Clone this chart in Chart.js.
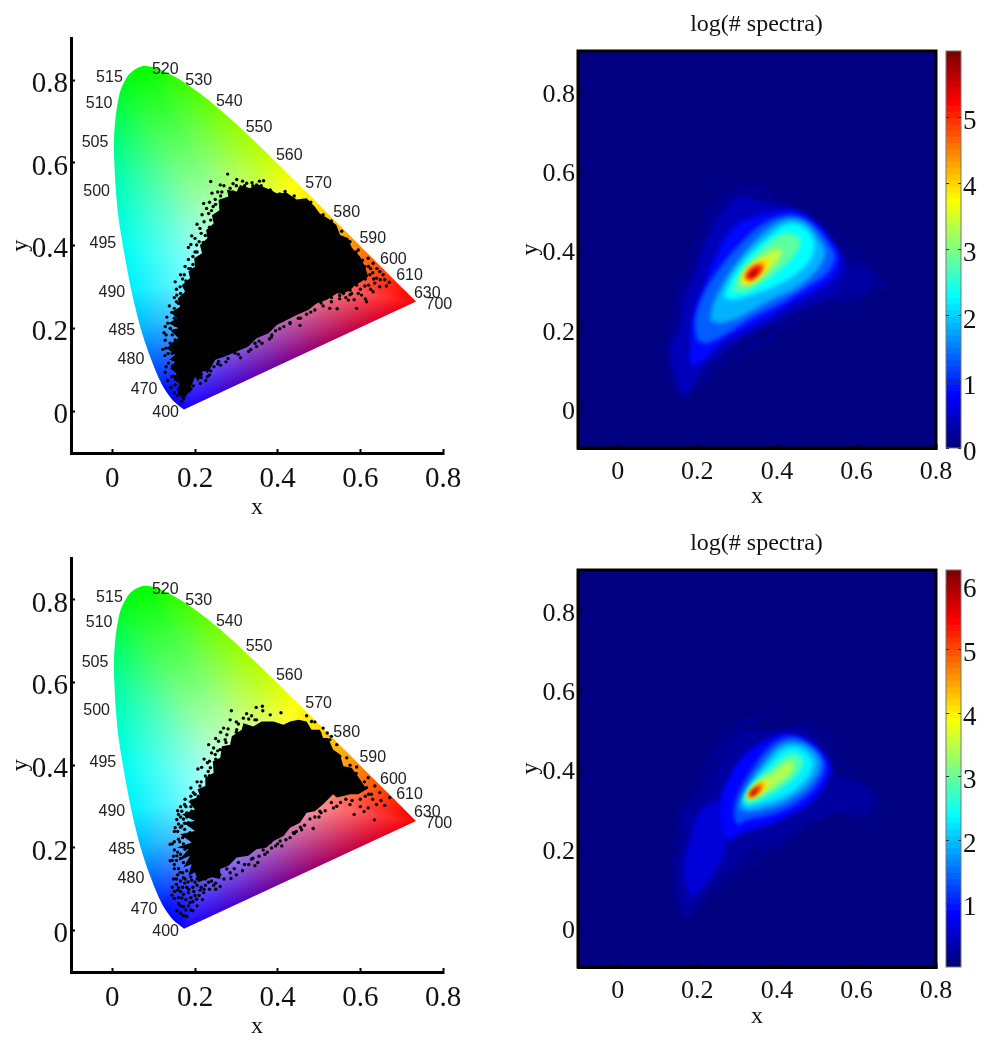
<!DOCTYPE html>
<html>
<head>
<meta charset="utf-8">
<title>log(# spectra)</title>
<script src="https://cdn.jsdelivr.net/npm/chart.js@4"></script>
<style>
  html, body { margin: 0; padding: 0; background: #fff; }
  #page { position: relative; width: 1003px; height: 1050px; overflow: hidden; }
  canvas { position: absolute; }
</style>
</head>
<body>
<div id="page">
  <canvas id="gamutTop" width="480" height="522" style="left:0;top:0"></canvas>
  <canvas id="gamutBottom" width="480" height="521" style="left:0;top:520px"></canvas>
  <canvas id="heatTop" width="493" height="519" style="left:510px;top:0"></canvas>
  <canvas id="heatBottom" width="493" height="520" style="left:510px;top:519px"></canvas>
  <canvas id="barTop" width="63" height="519" style="left:940px;top:0"></canvas>
  <canvas id="barBottom" width="63" height="520" style="left:940px;top:519px"></canvas>
</div>
<script>
const axisTicks = [0, 0.2, 0.4, 0.6, 0.8];
const barTicksTop = [0, 1, 2, 3, 4, 5];
const barTicksBottom = [1, 2, 3, 4, 5, 6];
const barMaxTop = 5.99;
const barMaxBottom = 6.24;

// spectral locus, x and y, with the colour seen along the edge
const locusX = [.1733, .1566, .1440, .1241, .1096, .0913, .0687, .0454, .0235, .0138, .0082, .0049, .0039, .0075, .0139, .0215, .0389, .0555, .0743, .0940, .1142, .1547, .1929, .2296, .2658, .3016, .3373, .3731, .4087, .4441, .4788, .5125, .5448, .5752, .6029, .6270, .6658, .6915, .7079, .7260, .7347];
const locusY = [.0048, .0177, .0297, .0578, .0868, .1327, .2007, .2950, .4127, .4760, .5384, .5980, .6548, .7070, .7502, .7800, .8120, .8262, .8338, .8323, .8262, .8059, .7816, .7543, .7243, .6923, .6589, .6245, .5896, .5547, .5202, .4866, .4544, .4242, .3965, .3725, .3340, .3083, .2920, .2740, .2653];
const locusR = [20, 0, 0, 0, 0, 0, 0, 0, 0, 0, 0, 0, 0, 0, 0, 0, 0, 0, 0, 10, 25, 50, 75, 100, 125, 150, 170, 195, 225, 255, 255, 255, 255, 255, 255, 255, 255, 255, 255, 255, 255];
const locusG = [0, 0, 0, 20, 60, 110, 180, 240, 255, 255, 255, 255, 255, 255, 255, 255, 255, 255, 255, 255, 255, 255, 255, 255, 255, 255, 255, 255, 255, 255, 235, 210, 185, 160, 130, 100, 60, 30, 10, 0, 0];
const locusB = [255, 255, 255, 255, 255, 255, 255, 255, 240, 215, 190, 160, 125, 90, 60, 35, 15, 0, 0, 0, 0, 0, 0, 0, 0, 0, 0, 0, 0, 0, 0, 0, 0, 0, 0, 0, 0, 0, 0, 0, 0];
const whiteX = 0.333;
const whiteY = 0.333;

const waveLabels = ['520', '530', '540', '550', '560', '570', '580', '590', '600', '610', '630', '700', '515', '510', '505', '500', '495', '490', '485', '480', '470', '400'];
const waveX = [.128, .209, .283, .355, .428, .499, .567, .630, .680, .719, .762, .790, -.007, -.032, -.042, -.038, -.023, -.001, .023, .045, .077, .129];
const waveY = [.826, .798, .748, .686, .618, .549, .480, .418, .366, .328, .285, .259, .805, .744, .648, .532, .406, .287, .195, .126, .052, -.002];

// dense part of the measured spectra
const coreTop = [[.168,.032],[.156,.052],[.163,.068],[.148,.076],[.156,.092],[.140,.104],[.152,.121],[.138,.125],[.152,.137],[.132,.153],[.148,.169],[.160,.177],[.140,.197],[.160,.201],[.136,.213],[.156,.225],[.142,.239],[.164,.253],[.158,.273],[.176,.289],[.168,.305],[.188,.322],[.184,.338],[.200,.350],[.198,.370],[.217,.382],[.212,.402],[.230,.418],[.227,.438],[.245,.454],[.241,.474],[.259,.486],[.257,.511],[.281,.519],[.277,.535],[.301,.531],[.309,.547],[.333,.539],[.349,.549],[.373,.539],[.398,.527],[.422,.528],[.446,.512],[.470,.515],[.490,.494],[.502,.478],[.522,.466],[.542,.450],[.551,.426],[.571,.418],[.579,.396],[.599,.374],[.611,.350],[.619,.326],[.603,.314],[.587,.305],[.575,.293],[.559,.285],[.543,.285],[.518,.269],[.494,.261],[.474,.245],[.446,.233],[.422,.221],[.398,.209],[.378,.189],[.349,.177],[.329,.157],[.301,.145],[.273,.133],[.249,.125],[.230,.092],[.221,.104],[.208,.072],[.200,.084],[.184,.044]];
const coreBottom = [[.208,.117],[.200,.141],[.184,.133],[.192,.161],[.172,.153],[.188,.181],[.160,.169],[.184,.197],[.156,.201],[.192,.213],[.164,.233],[.200,.241],[.172,.261],[.200,.265],[.168,.281],[.200,.293],[.184,.313],[.212,.326],[.206,.342],[.225,.350],[.225,.370],[.245,.382],[.243,.410],[.261,.418],[.265,.446],[.285,.450],[.289,.470],[.313,.486],[.317,.502],[.341,.494],[.361,.506],[.390,.506],[.414,.498],[.430,.506],[.450,.510],[.470,.506],[.482,.486],[.502,.486],[.510,.466],[.522,.466],[.534,.438],[.551,.426],[.559,.398],[.579,.394],[.599,.366],[.615,.342],[.595,.330],[.575,.330],[.559,.326],[.543,.322],[.534,.330],[.510,.306],[.490,.289],[.470,.285],[.454,.261],[.430,.249],[.414,.229],[.390,.217],[.373,.201],[.349,.197],[.329,.181],[.301,.177],[.281,.157],[.261,.149],[.261,.125],[.241,.129]];

// stray spectra around the dense part
const dotsTop = [[.279,.573],[.238,.555],[.301,.560],[.366,.557],[.261,.547],[.325,.551],[.349,.547],[.285,.539],[.241,.527],[.221,.502],[.249,.512],[.309,.539],[.382,.535],[.418,.531],[.233,.478],[.217,.475],[.212,.442],[.192,.424],[.184,.396],[.204,.402],[.184,.367],[.195,.374],[.174,.330],[.152,.313],[.164,.301],[.156,.281],[.144,.239],[.150,.249],[.160,.261],[.134,.213],[.140,.201],[.152,.209],[.130,.153],[.140,.165],[.152,.173],[.136,.117],[.148,.125],[.160,.133],[.144,.084],[.160,.092],[.152,.064],[.168,.072],[.164,.045],[.172,.032],[.180,.060],[.192,.080],[.213,.068],[.230,.084],[.221,.100],[.257,.121],[.297,.141],[.349,.157],[.386,.185],[.454,.208],[.414,.221],[.486,.261],[.526,.249],[.544,.248],[.591,.249],[.571,.269],[.579,.285],[.615,.265],[.603,.281],[.631,.289],[.647,.301],[.663,.303],[.659,.318],[.639,.322],[.647,.338],[.623,.330],[.611,.350],[.631,.358],[.619,.370],[.599,.366],[.595,.390],[.583,.326],[.591,.305],[.611,.303],[.575,.293],[.559,.285],[.567,.402],
  [.255,.530],[.270,.545],[.292,.550],[.315,.556],[.338,.552],[.356,.556],[.292,.530],[.262,.520],[.235,.505],[.244,.495],[.228,.490],[.238,.462],[.222,.458],[.205,.452],[.215,.430],[.200,.418],[.220,.408],[.190,.403],[.205,.385],[.176,.350],[.190,.345],[.165,.330],[.178,.315],[.155,.295],[.150,.275],[.138,.255],[.132,.228],[.128,.205],[.125,.190],[.128,.172],[.122,.150],[.127,.135],[.130,.108],[.128,.095],[.134,.075],[.142,.058],[.150,.045],[.158,.038],[.168,.024],[.176,.040],[.186,.050],[.196,.062],[.205,.090],[.215,.082],[.226,.075],[.238,.098],[.246,.108],[.262,.112],[.275,.120],[.310,.130],[.330,.145],[.345,.165],[.362,.165],[.380,.175],[.395,.195],[.415,.205],[.430,.215],[.450,.225],[.470,.235],[.490,.245],[.510,.255],[.530,.265],[.550,.272],[.565,.275],[.585,.270],[.600,.295],[.620,.305],[.635,.310],[.655,.330],[.640,.345],[.625,.345],[.630,.335],[.605,.335],[.595,.285],[.612,.272],[.625,.295],[.648,.318],[.670,.312],
  [.150,.085],[.165,.080],[.175,.055],[.185,.070],[.195,.090],[.210,.100],[.145,.110],[.145,.140],[.135,.140],[.142,.150],[.145,.185],[.130,.185],[.150,.225],[.155,.265],[.165,.285],[.170,.320],[.185,.345],[.195,.355],[.200,.385],[.210,.410],[.225,.425],[.235,.445],[.240,.485],[.250,.500],[.265,.530],[.285,.525],[.300,.545],[.320,.545],[.340,.545],[.360,.545],[.385,.530],[.405,.525],[.440,.520],[.480,.505],[.510,.475],[.530,.460],[.555,.435],[.575,.410],[.590,.385],[.605,.365],[.620,.350],[.632,.320],[.612,.320],[.595,.315],[.575,.282],[.550,.280],[.530,.275],[.505,.262],[.480,.240],[.455,.225],[.430,.212],[.405,.200],[.385,.180],[.355,.170],[.335,.150],[.305,.138],[.280,.128],[.255,.115],[.235,.088],[.215,.090],[.190,.055]];
const dotsBottom = [[.288,.532],[.348,.540],[.363,.543],[.364,.532],[.382,.522],[.408,.527],[.317,.514],[.337,.520],[.349,.510],[.285,.510],[.301,.486],[.269,.490],[.277,.474],[.273,.462],[.257,.458],[.245,.442],[.261,.438],[.249,.426],[.233,.450],[.230,.406],[.237,.394],[.207,.391],[.225,.374],[.212,.350],[.196,.334],[.208,.325],[.176,.318],[.192,.314],[.168,.289],[.160,.281],[.180,.285],[.192,.289],[.156,.269],[.152,.249],[.168,.253],[.184,.261],[.140,.209],[.160,.221],[.176,.229],[.188,.237],[.140,.169],[.156,.181],[.176,.197],[.192,.205],[.148,.125],[.164,.141],[.184,.165],[.144,.086],[.160,.104],[.176,.125],[.192,.141],[.168,.079],[.184,.092],[.200,.117],[.156,.048],[.172,.036],[.184,.060],[.204,.076],[.221,.092],[.233,.117],[.261,.107],[.287,.126],[.277,.149],[.305,.165],[.337,.173],[.345,.157],[.369,.185],[.382,.213],[.406,.217],[.458,.244],[.486,.247],[.438,.237],[.502,.289],[.535,.297],[.543,.301],[.575,.305],[.585,.281],[.609,.288],[.634,.268],[.619,.297],[.639,.305],[.659,.303],[.671,.322],[.647,.334],[.627,.330],[.615,.346],[.599,.350],[.583,.366],[.591,.396],[.567,.382],[.619,.370],[.502,.478],[.526,.462],[.543,.450],[.482,.506],[.550,.422],[.567,.418],
  [.158,.290],[.165,.300],[.172,.270],[.160,.258],[.175,.245],[.150,.240],[.163,.215],[.150,.215],[.172,.210],[.148,.180],[.165,.175],[.150,.160],[.172,.165],[.158,.135],[.175,.115],[.155,.112],[.165,.095],[.180,.105],[.150,.095],[.195,.105],[.178,.075],[.165,.060],[.195,.070],[.215,.105],[.210,.085],[.225,.110],[.190,.050],[.180,.035],[.245,.110],[.250,.100],[.270,.125],[.295,.150],[.315,.145],[.330,.160],[.355,.180],[.375,.190],[.395,.205],[.420,.220],[.440,.235],[.455,.250],[.478,.270],[.500,.275],[.515,.290],[.530,.310],[.552,.310],[.565,.318],[.580,.315],[.600,.318],[.612,.325],[.630,.318],[.650,.315],[.600,.300],[.620,.330],[.635,.350],[.610,.360],[.590,.380],[.575,.400],[.325,.525],[.300,.505],[.280,.488],[.262,.480],[.250,.465],[.240,.430],[.222,.415],[.216,.395],[.232,.385],[.205,.360],[.190,.345],[.200,.305],[.178,.300],[.330,.512],[.345,.510],[.470,.520],[.490,.505],[.510,.490],[.530,.470],[.520,.478],
  [.150,.150],[.160,.150],[.170,.140],[.180,.145],[.190,.130],[.155,.125],[.165,.120],[.172,.128],[.183,.118],[.192,.122],[.205,.110],[.145,.105],[.158,.098],[.170,.105],[.185,.100],[.197,.095],[.212,.098],[.222,.100],[.235,.100],[.150,.078],[.160,.080],[.172,.088],[.190,.080],[.200,.085],[.218,.075],[.160,.065],[.172,.058],[.188,.068],[.205,.060],[.165,.042],[.178,.050],[.195,.048],[.240,.120],[.225,.125],[.215,.130],[.205,.125],[.250,.115],[.260,.135],[.285,.140],[.300,.135],[.320,.160],[.340,.175],[.352,.165],[.365,.195],[.385,.200],[.400,.210],[.410,.205],[.430,.225],[.445,.240],[.465,.255],[.490,.275],[.505,.285],
  [.145,.210],[.150,.195],[.158,.190],[.145,.170],[.155,.170],[.165,.185],[.170,.225],[.158,.240],[.165,.250],[.175,.260],[.165,.275],[.180,.275],[.175,.305],[.190,.300],[.190,.325],[.200,.330],[.215,.340],[.215,.360],[.235,.375],[.235,.410],[.250,.415],[.255,.435],[.275,.455],[.300,.480],[.305,.500]];

// log(# spectra) contours, outermost first
const levelsTop = [.2, .35, .8, 1.3, 1.8, 2.25, 2.8, 3.4, 3.9, 4.5, 5.2, 5.8];
const contoursTop = [
  [[.157,.028],[.136,.104],[.131,.154],[.152,.205],[.165,.280],[.194,.347],[.224,.431],[.265,.507],[.307,.540],[.374,.524],[.450,.503],[.508,.465],[.550,.414],[.575,.372],[.634,.347],[.634,.297],[.575,.280],[.525,.280],[.475,.255],[.408,.221],[.341,.188],[.274,.146],[.215,.095],[.182,.036]],
  [[.160,.040],[.140,.104],[.135,.154],[.156,.205],[.170,.280],[.198,.347],[.228,.431],[.269,.500],[.307,.530],[.374,.516],[.450,.500],[.506,.462],[.548,.412],[.572,.372],[.566,.330],[.545,.290],[.475,.260],[.408,.226],[.341,.192],[.274,.150],[.215,.100],[.182,.046]],
  [[.182,.154],[.190,.238],[.215,.305],[.249,.389],[.291,.456],[.358,.486],[.442,.498],[.500,.465],[.542,.414],[.559,.381],[.550,.339],[.500,.297],[.450,.272],[.383,.230],[.316,.196],[.257,.162],[.215,.120],[.182,.104]],
  [[.199,.171],[.194,.221],[.215,.288],[.257,.355],[.307,.414],[.366,.465],[.433,.486],[.483,.469],[.525,.423],[.546,.381],[.525,.339],[.475,.305],[.408,.263],[.341,.230],[.274,.188],[.224,.162]],
  [[.232,.221],[.240,.263],[.274,.330],[.324,.398],[.383,.456],[.433,.478],[.475,.465],[.508,.423],[.521,.389],[.500,.347],[.450,.305],[.383,.272],[.307,.230],[.257,.213]],
  [[.265,.280],[.282,.322],[.324,.381],[.383,.436],[.429,.465],[.467,.456],[.492,.423],[.488,.381],[.450,.339],[.391,.305],[.332,.284],[.291,.272]],
  [[.286,.293],[.307,.343],[.366,.406],[.416,.440],[.450,.435],[.458,.410],[.433,.372],[.383,.330],[.324,.293]],
  [[.307,.322],[.324,.351],[.366,.385],[.404,.402],[.412,.389],[.383,.351],[.341,.318],[.316,.309]],
  [[.311,.326],[.324,.351],[.349,.368],[.379,.377],[.379,.360],[.349,.326],[.324,.309]],
  [[.317,.330],[.332,.354],[.358,.366],[.368,.360],[.358,.339],[.332,.319]],
  [[.322,.332],[.337,.351],[.353,.360],[.362,.354],[.349,.335],[.332,.324]],
  [[.328,.335],[.341,.346],[.351,.349],[.349,.341],[.337,.329]]
];
const levelsBottom = [.2, .55, .8, 1.3, 1.8, 2.25, 2.8, 3.4, 4, 4.6, 5.3, 6];
const contoursBottom = [
  [[.161,.034],[.144,.118],[.165,.219],[.165,.282],[.207,.328],[.257,.412],[.299,.488],[.349,.496],[.416,.501],[.467,.505],[.525,.446],[.550,.387],[.634,.345],[.634,.286],[.559,.286],[.475,.261],[.408,.219],[.341,.194],[.282,.144],[.215,.076],[.182,.034]],
  [[.182,.068],[.165,.152],[.182,.219],[.198,.278],[.232,.312],[.265,.312],[.274,.236],[.265,.177],[.215,.102]],
  [[.257,.295],[.265,.345],[.307,.421],[.358,.463],[.425,.488],[.492,.463],[.529,.421],[.534,.387],[.492,.320],[.425,.278],[.366,.253],[.307,.236],[.282,.219],[.265,.236]],
  [[.291,.278],[.299,.328],[.341,.404],[.391,.463],[.441,.480],[.492,.454],[.521,.412],[.504,.362],[.450,.312],[.383,.282],[.324,.270],[.303,.257]],
  [[.303,.299],[.316,.341],[.358,.404],[.408,.459],[.450,.467],[.492,.446],[.509,.412],[.488,.366],[.437,.324],[.374,.299],[.324,.291]],
  [[.312,.312],[.328,.349],[.370,.404],[.416,.450],[.454,.454],[.483,.433],[.492,.408],[.467,.366],[.416,.328],[.366,.312],[.328,.303]],
  [[.317,.320],[.337,.358],[.383,.400],[.421,.433],[.450,.438],[.467,.417],[.450,.383],[.408,.349],[.362,.324],[.328,.312]],
  [[.322,.328],[.345,.362],[.391,.391],[.425,.417],[.441,.417],[.437,.391],[.400,.358],[.358,.333],[.332,.322]],
  [[.324,.330],[.345,.354],[.370,.370],[.379,.364],[.358,.337],[.332,.324]],
  [[.326,.333],[.341,.349],[.362,.364],[.368,.360],[.353,.341],[.334,.327]],
  [[.329,.334],[.345,.351],[.359,.358],[.358,.349],[.345,.335],[.334,.328]],
  [[.333,.337],[.345,.347],[.351,.349],[.345,.337],[.337,.331]]
];

const serif = '"Liberation Serif", "Times New Roman", serif';

function jet(t) {
  const ramp = (a) => Math.max(0, Math.min(1, 1.5 - Math.abs(4 * t - a)));
  const r = Math.round(255 * ramp(3));
  const g = Math.round(255 * ramp(2));
  const b = Math.round(255 * ramp(1));
  return `rgb(${r},${g},${b})`;
}

function toPoints(pairs) {
  return pairs.map(p => ({ x: p[0], y: p[1] }));
}

function tickLabel(v) {
  return v === 0 ? '0' : v.toFixed(1);
}

// horseshoe colours: a fan of triangles from the white point to the locus
function gamutPattern(chart) {
  if (chart.$gamut) return chart.$gamut;
  const area = chart.chartArea;
  if (!area) return 'transparent';
  const off = document.createElement('canvas');
  off.width = chart.width;
  off.height = chart.height;
  const octx = off.getContext('2d');
  const img = octx.createImageData(off.width, off.height);
  const n = locusX.length;
  for (let py = Math.floor(area.top); py < area.bottom; py++) {
    for (let px = Math.floor(area.left); px < area.right; px++) {
      const dx = chart.scales.x.getValueForPixel(px) - whiteX;
      const dy = chart.scales.y.getValueForPixel(py) - whiteY;
      for (let a = 0; a < n; a++) {
        const c = (a + 1) % n;
        const ax = locusX[a] - whiteX, ay = locusY[a] - whiteY;
        const cx = locusX[c] - whiteX, cy = locusY[c] - whiteY;
        const det = ax * cy - cx * ay;
        const u = (dx * cy - cx * dy) / det;
        const v = (ax * dy - dx * ay) / det;
        if (u < 0 || v < 0) continue;
        const w = Math.max(0, 1 - u - v);
        const i = (py * off.width + px) * 4;
        img.data[i] = w * 255 + u * locusR[a] + v * locusR[c];
        img.data[i + 1] = w * 255 + u * locusG[a] + v * locusG[c];
        img.data[i + 2] = w * 255 + u * locusB[a] + v * locusB[c];
        img.data[i + 3] = 255;
        break;
      }
    }
  }
  octx.putImageData(img, 0, 0);
  chart.$gamut = chart.ctx.createPattern(off, 'no-repeat');
  return chart.$gamut;
}

const waveTextPlugin = {
  id: 'waveText',
  afterDatasetsDraw(chart) {
    const ctx = chart.ctx;
    ctx.save();
    ctx.font = '16px "Liberation Sans", Arial, sans-serif';
    ctx.fillStyle = '#222';
    ctx.textAlign = 'center';
    ctx.textBaseline = 'middle';
    waveLabels.forEach((label, i) => {
      ctx.fillText(label, chart.scales.x.getPixelForValue(waveX[i]), chart.scales.y.getPixelForValue(waveY[i]));
    });
    ctx.restore();
  }
};

const heatFramePlugin = {
  id: 'heatFrame',
  beforeDraw(chart) {
    const a = chart.chartArea;
    chart.ctx.fillStyle = jet(0);
    chart.ctx.fillRect(a.left, a.top, a.right - a.left, a.bottom - a.top);
  },
  beforeDatasetsDraw(chart) {
    chart.ctx.filter = 'blur(2px)';
  },
  afterDatasetsDraw(chart) {
    const a = chart.chartArea;
    const ctx = chart.ctx;
    ctx.filter = 'none';
    ctx.save();
    ctx.strokeStyle = '#000';
    ctx.lineWidth = 3;
    ctx.strokeRect(a.left, a.top, a.right - a.left, a.bottom - a.top);
    ctx.restore();
  }
};

// thin outline of the colour bar and its short ticks on both sides
const barFramePlugin = {
  id: 'barFrame',
  afterDatasetsDraw(chart) {
    const a = chart.chartArea;
    const ctx = chart.ctx;
    ctx.save();
    ctx.strokeStyle = '#777';
    ctx.lineWidth = 1;
    ctx.strokeRect(a.left, a.top, a.right - a.left, a.bottom - a.top);
    ctx.strokeStyle = '#333';
    chart.scales.y.ticks.forEach(t => {
      const py = Math.round(chart.scales.y.getPixelForValue(t.value)) + 0.5;
      ctx.beginPath();
      ctx.moveTo(a.left, py);
      ctx.lineTo(a.left + 3, py);
      ctx.moveTo(a.right - 3, py);
      ctx.lineTo(a.right, py);
      ctx.stroke();
    });
    ctx.restore();
  }
};

function axisOptions(min, max, fontSize, padding, title, titlePadding, size) {
  return {
    type: 'linear',
    min: min,
    max: max,
    afterBuildTicks: s => { s.ticks = axisTicks.map(v => ({ value: v })); },
    afterFit: s => {
      if (s.isHorizontal()) s.height = size; else s.width = size;
    },
    grid: { drawOnChartArea: false, tickLength: -4, tickWidth: 2, tickColor: '#000' },
    border: { color: '#000', width: 3 },
    ticks: {
      autoSkip: false,
      maxRotation: 0,
      color: '#111',
      padding: padding,
      labelOffset: title === 'y' ? 4 : 0,
      font: { family: serif, size: fontSize },
      callback: tickLabel
    },
    title: {
      display: true,
      text: title,
      color: '#111',
      padding: titlePadding,
      font: { family: serif, size: 24 }
    }
  };
}

function renderGamut(id, core, dots, axisBottom) {
  const height = document.getElementById(id).height;
  new Chart(document.getElementById(id), {
    type: 'scatter',
    data: {
      datasets: [
        {
          data: locusX.map((x, i) => ({ x: x, y: locusY[i] })),
          showLine: true,
          fill: 'shape',
          tension: 0.3,
          backgroundColor: c => gamutPattern(c.chart),
          borderWidth: 0,
          pointRadius: 0,
          order: 3
        },
        {
          data: toPoints(core),
          showLine: true,
          fill: 'shape',
          backgroundColor: '#000',
          borderWidth: 0,
          pointRadius: 0,
          order: 2
        },
        {
          data: toPoints(dots),
          backgroundColor: '#000',
          borderWidth: 0,
          pointRadius: 1.7,
          order: 1
        }
      ]
    },
    options: {
      responsive: false,
      animation: false,
      events: [],
      layout: { padding: { top: 38.6, right: 37, left: 0, bottom: 0 } },
      plugins: { legend: { display: false }, tooltip: { enabled: false } },
      scales: {
        x: axisOptions(-0.1, 0.8, 29, 13, 'x', { top: 0, bottom: 0 }, height - axisBottom),
        y: axisOptions(-0.1, 0.9, 29, 7, 'y', { top: 6, bottom: 0 }, 71)
      }
    },
    plugins: [waveTextPlugin]
  });
}

function renderHeat(id, levels, contours, dots, barMax) {
  const height = document.getElementById(id).height;
  const datasets = contours.map((c, i) => ({
    data: toPoints(c),
    showLine: true,
    fill: 'shape',
    tension: 0.35,
    backgroundColor: jet(levels[i] / barMax),
    borderWidth: 0,
    pointRadius: 0,
    order: contours.length - i
  }));
  datasets.push({
    data: toPoints(dots),
    backgroundColor: jet(0.55 / barMax),
    borderWidth: 0,
    pointRadius: 1.4,
    order: contours.length + 1
  });
  new Chart(document.getElementById(id), {
    type: 'scatter',
    data: { datasets: datasets },
    options: {
      responsive: false,
      animation: false,
      events: [],
      layout: { padding: 0 },
      plugins: {
        legend: { display: false },
        tooltip: { enabled: false },
        title: {
          display: true,
          text: 'log(# spectra)',
          color: '#111',
          padding: { top: 10.5, bottom: 11.7 },
          font: { family: serif, size: 24, weight: 'normal' }
        }
      },
      scales: {
        x: axisOptions(-0.1, 0.8, 26, 13, 'x', { top: 0, bottom: 8 }, height - 448),
        y: axisOptions(-0.1, 0.9, 26, 7, 'y', { top: 6, bottom: 0 }, 68),
        // room kept free for the colour bar
        barRoom: {
          position: 'right',
          afterFit: s => { s.width = 67; },
          grid: { display: false },
          border: { display: false },
          ticks: { display: false }
        }
      }
    },
    plugins: [heatFramePlugin]
  });
}

function renderBar(id, ticks, barMax) {
  const canvas = document.getElementById(id);
  const steps = Array.from({ length: 64 }, (_, i) => i);
  new Chart(canvas, {
    type: 'bar',
    data: {
      labels: ['log(# spectra)'],
      datasets: steps.map(i => ({
        data: [barMax / 64],
        backgroundColor: jet(i / 63),
        borderWidth: 0,
        inflateAmount: 1,
        barPercentage: 1,
        categoryPercentage: 1,
        stack: 'bar'
      }))
    },
    options: {
      responsive: false,
      animation: false,
      events: [],
      layout: { padding: { top: 51, left: 6, right: 0, bottom: canvas.height - 448 } },
      plugins: { legend: { display: false }, tooltip: { enabled: false } },
      scales: {
        x: { display: false, stacked: true },
        y: {
          stacked: true,
          position: 'right',
          min: 0,
          max: barMax,
          afterBuildTicks: s => { s.ticks = ticks.map(v => ({ value: v })); },
          afterFit: s => { s.width = 42; },
          grid: { display: false, drawTicks: false },
          border: { display: false },
          ticks: {
            color: '#111',
            padding: 2,
            labelOffset: 5,
            font: { family: serif, size: 27 },
            callback: v => String(v)
          }
        }
      }
    },
    plugins: [barFramePlugin]
  });
}

renderGamut('gamutTop', coreTop, dotsTop, 453);
renderGamut('gamutBottom', coreBottom, dotsBottom, 452);
renderHeat('heatTop', levelsTop, contoursTop, dotsTop, 6);
renderHeat('heatBottom', levelsBottom, contoursBottom, dotsBottom, 6.24);
renderBar('barTop', barTicksTop, barMaxTop);
renderBar('barBottom', barTicksBottom, barMaxBottom);
</script>
</body>
</html>
